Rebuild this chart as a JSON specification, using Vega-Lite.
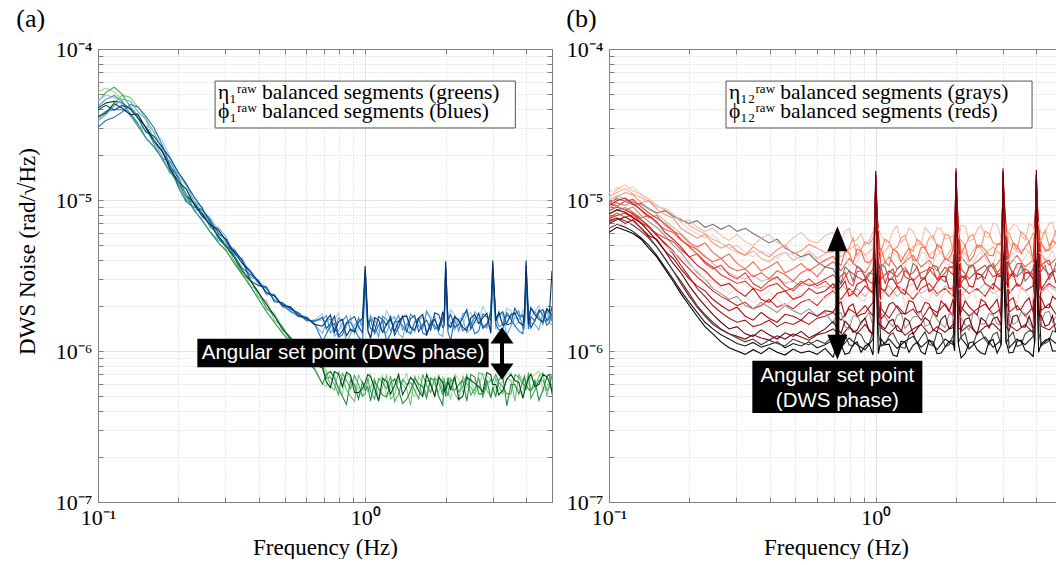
{
  "$schema": "https://vega.github.io/schema/vega-lite/v6.json",
  "background": "white",
  "padding": {"left": 16, "top": 6, "right": 0, "bottom": 0},
  "autosize": {"type": "pad"},
  "spacing": 13,
  "resolve": {"scale": {"color": "independent"}},
  "config": {
    "view": {"stroke": null},
    "axis": {
      "domainColor": "#808080", "tickColor": "#808080", "labelColor": "#000000", "titleColor": "#000000",
      "labelFont": "Liberation Serif", "titleFont": "Liberation Serif", "titleFontWeight": "normal",
      "labelFontSize": 22, "titleFontSize": 23, "labelFlush": false, "labelOverlap": false
    },
    "title": {"font": "Liberation Serif", "fontSize": 26, "fontWeight": "normal", "color": "#000000", "anchor": "start", "frame": "bounds"}
  },
  "datasets": {
    "left": [
      {"f":0.1,"e1":52,"e2":33.6,"e3":44.8,"e4":35.2,"e5":40.8,"p1":45.6,"p2":33.4,"p3":41.8,"p4":30.4,"p5":39.5,"p6":35.7},
      {"f":0.107,"e1":55,"e2":37.8,"e3":51.6,"e4":38.7,"e5":43.9,"p1":49.6,"p2":36.8,"p3":46.4,"p4":33.6,"p5":42.4,"p6":37.6},
      {"f":0.115,"e1":52.2,"e2":44.1,"e3":55.8,"e4":39.6,"e5":45,"p1":47.6,"p2":41.8,"p3":49.2,"p4":35.3,"p5":39.4,"p6":43.5},
      {"f":0.123,"e1":45.8,"e2":49.3,"e3":50.2,"e4":39.6,"e5":44,"p1":43.2,"p2":46.5,"p3":44.8,"p4":38.2,"p5":42.3,"p6":40.7},
      {"f":0.132,"e1":37.6,"e2":48,"e3":41.6,"e4":37.6,"e5":40,"p1":35.9,"p2":45.2,"p3":36.7,"p4":42.9,"p5":40.6,"p6":36.7},
      {"f":0.141,"e1":31.5,"e2":41.3,"e3":36.4,"e4":32.2,"e5":35,"p1":30.8,"p2":38.5,"p3":30.8,"p4":41.3,"p5":35,"p6":37.1},
      {"f":0.151,"e1":28.8,"e2":34.8,"e3":30,"e4":25.8,"e5":30.6,"p1":31.2,"p2":34.2,"p3":25.8,"p4":36,"p5":28.2,"p6":30},
      {"f":0.162,"e1":26.5,"e2":28,"e3":23.5,"e4":22.5,"e5":25,"p1":28.6,"p2":25,"p3":22.4,"p4":30.1,"p5":26.5,"p6":24.5},
      {"f":0.174,"e1":22.6,"e2":21.7,"e3":18.5,"e4":18.9,"e5":20.9,"p1":24.8,"p2":19.3,"p3":18.9,"p4":23.1,"p5":22.3,"p6":21},
      {"f":0.186,"e1":18.5,"e2":16.5,"e3":15.2,"e4":15.5,"e5":16.8,"p1":19.4,"p2":15,"p3":18,"p4":17,"p5":19,"p6":16},
      {"f":0.2,"e1":14.6,"e2":12.4,"e3":13.8,"e4":12.7,"e5":14,"p1":14.6,"p2":15.2,"p3":14.1,"p4":12.1,"p5":15.2,"p6":13.2},
      {"f":0.214,"e1":12.3,"e2":10.3,"e3":9.9,"e4":11,"e5":10.8,"p1":10.8,"p2":12.9,"p3":10.6,"p4":9.72,"p5":12.7,"p6":11.8},
      {"f":0.229,"e1":9.86,"e2":8.56,"e3":9.67,"e4":8.56,"e5":9.49,"p1":10.3,"p2":9.69,"p3":8.55,"p4":8.93,"p5":10.5,"p6":9.31},
      {"f":0.245,"e1":7.68,"e2":8.64,"e3":8.16,"e4":7.36,"e5":8.16,"p1":8.36,"p2":9.02,"p3":7.38,"p4":8.69,"p5":8.86,"p6":7.87},
      {"f":0.263,"e1":7.34,"e2":6.53,"e3":7.07,"e4":6.12,"e5":6.8,"p1":7.7,"p2":6.58,"p3":6.16,"p4":7.42,"p5":7.14,"p6":6.86},
      {"f":0.282,"e1":6.03,"e2":6.26,"e3":5.57,"e4":5.22,"e5":5.8,"p1":6.36,"p2":6.6,"p3":5.4,"p4":6,"p5":5.64,"p6":6.36},
      {"f":0.302,"e1":4.68,"e2":5.12,"e3":5.19,"e4":4.61,"e5":4.9,"p1":5.04,"p2":5.67,"p3":5.04,"p4":5.51,"p5":4.89,"p6":5.36},
      {"f":0.324,"e1":4.28,"e2":3.92,"e3":4.16,"e4":3.79,"e5":4.18,"p1":4.77,"p2":4.37,"p3":4.64,"p4":4.23,"p5":4.64,"p6":4.5},
      {"f":0.347,"e1":3.5,"e2":3.3,"e3":3.2,"e4":3.2,"e5":3.4,"p1":3.74,"p2":4.09,"p3":3.97,"p4":3.52,"p5":3.97,"p6":3.8},
      {"f":0.372,"e1":2.68,"e2":3.02,"e3":2.94,"e4":2.68,"e5":2.91,"p1":3.44,"p2":3.06,"p3":3.34,"p4":3.2,"p5":2.91,"p6":3.34},
      {"f":0.398,"e1":2.51,"e2":2.29,"e3":2.44,"e4":2.22,"e5":2.45,"p1":2.88,"p2":2.97,"p3":2.8,"p4":2.93,"p5":2.72,"p6":2.88},
      {"f":0.427,"e1":1.94,"e2":2.15,"e3":1.91,"e4":1.82,"e5":2.04,"p1":2.65,"p2":2.35,"p3":2.58,"p4":2.43,"p5":2.65,"p6":2.43},
      {"f":0.457,"e1":1.78,"e2":1.6,"e3":1.73,"e4":1.55,"e5":1.71,"p1":2.18,"p2":2.39,"p3":2.18,"p4":2.32,"p5":2.12,"p6":2.32},
      {"f":0.49,"e1":1.36,"e2":1.46,"e3":1.44,"e4":1.32,"e5":1.4,"p1":2.09,"p2":1.95,"p3":2.05,"p4":1.99,"p5":2.09,"p6":2.01},
      {"f":0.525,"e1":1.26,"e2":1.15,"e3":1.18,"e4":1.13,"e5":1.22,"p1":1.8,"p2":1.96,"p3":1.9,"p4":1.84,"p5":1.9,"p6":1.96},
      {"f":0.562,"e1":1.01,"e2":1.06,"e3":1.04,"e4":0.979,"e5":1.05,"p1":1.77,"p2":1.71,"p3":1.76,"p4":1.69,"p5":1.79,"p6":1.71},
      {"f":0.603,"e1":0.936,"e2":0.864,"e3":0.927,"e4":0.846,"e5":0.918,"p1":1.58,"p2":1.7,"p3":1.58,"p4":1.66,"p5":1.61,"p6":1.66},
      {"f":0.646,"e1":0.776,"e2":0.832,"e3":0.792,"e4":0.76,"e5":0.816,"p1":1.61,"p2":1.49,"p3":1.6,"p4":1.52,"p5":1.57,"p6":1.5},
      {"f":0.692,"e1":0.607,"e2":0.796,"e3":0.793,"e4":0.603,"e5":0.771,"p1":1.76,"p2":1.31,"p3":1.61,"p4":1.16,"p5":1.67,"p6":1.46},
      {"f":0.716,"e1":0.58,"e2":0.74,"e3":0.66,"e4":0.7,"e5":0.62,"p1":1.36,"p2":1.58,"p3":1.72,"p4":1.3,"p5":1.41,"p6":1.6},
      {"f":0.741,"e1":0.725,"e2":0.584,"e3":0.671,"e4":0.733,"e5":0.572,"p1":1.43,"p2":1.63,"p3":1.32,"p4":1.47,"p5":1.52,"p6":1.73},
      {"f":0.767,"e1":0.7,"e2":0.55,"e3":0.6,"e4":0.66,"e5":0.73,"p1":1.62,"p2":1.25,"p3":1.4,"p4":1.52,"p5":1.7,"p6":1.33},
      {"f":0.794,"e1":0.575,"e2":0.728,"e3":0.515,"e4":0.562,"e5":0.706,"p1":1.78,"p2":1.35,"p3":1.65,"p4":1.23,"p5":1.26,"p6":1.56},
      {"f":0.822,"e1":0.52,"e2":0.66,"e3":0.71,"e4":0.5,"e5":0.58,"p1":1.37,"p2":1.55,"p3":1.58,"p4":1.28,"p5":1.36,"p6":1.62},
      {"f":0.851,"e1":0.7,"e2":0.551,"e3":0.641,"e4":0.442,"e5":0.724,"p1":1.44,"p2":1.12,"p3":1.71,"p4":1.52,"p5":1.54,"p6":1.26},
      {"f":0.881,"e1":0.66,"e2":0.5,"e3":0.56,"e4":0.64,"e5":0.69,"p1":1.7,"p2":1.3,"p3":1.36,"p4":1.55,"p5":1.62,"p6":1.4},
      {"f":0.912,"e1":0.617,"e2":0.464,"e3":0.688,"e4":0.595,"e5":0.532,"p1":1.29,"p2":1.48,"p3":1.34,"p4":1.39,"p5":1.69,"p6":1.34},
      {"f":0.944,"e1":0.55,"e2":0.69,"e3":0.6,"e4":0.48,"e5":0.53,"p1":1.4,"p2":1.62,"p3":1.66,"p4":1.24,"p5":1.45,"p6":1.55},
      {"f":0.977,"e1":0.5,"e2":0.611,"e3":0.502,"e4":0.623,"e5":0.562,"p1":1.64,"p2":1.58,"p3":1.44,"p4":1.16,"p5":1.32,"p6":1.66},
      {"f":1,"e1":0.6,"e2":0.59,"e3":0.52,"e4":0.55,"e5":0.62,"p1":3,"p2":2.6,"p3":3.3,"p4":2.9,"p5":3.5,"p6":3.66},
      {"f":1.023,"e1":0.64,"e2":0.54,"e3":0.66,"e4":0.58,"e5":0.7,"p1":1.55,"p2":1.33,"p3":1.4,"p4":1.5,"p5":1.62,"p6":1.38},
      {"f":1.047,"e1":0.703,"e2":0.572,"e3":0.541,"e4":0.468,"e5":0.678,"p1":1.57,"p2":1.24,"p3":1.71,"p4":1.62,"p5":1.41,"p6":1.21},
      {"f":1.084,"e1":0.52,"e2":0.66,"e3":0.48,"e4":0.63,"e5":0.57,"p1":1.68,"p2":1.58,"p3":1.48,"p4":1.3,"p5":1.35,"p6":1.66},
      {"f":1.122,"e1":0.636,"e2":0.475,"e3":0.657,"e4":0.565,"e5":0.465,"p1":1.36,"p2":1.47,"p3":1.24,"p4":1.48,"p5":1.69,"p6":1.61},
      {"f":1.161,"e1":0.69,"e2":0.58,"e3":0.62,"e4":0.51,"e5":0.66,"p1":1.42,"p2":1.34,"p3":1.7,"p4":1.57,"p5":1.62,"p6":1.33},
      {"f":1.202,"e1":0.49,"e2":0.689,"e3":0.56,"e4":0.497,"e5":0.63,"p1":1.85,"p2":1.32,"p3":1.62,"p4":1.16,"p5":1.48,"p6":1.51},
      {"f":1.245,"e1":0.56,"e2":0.48,"e3":0.68,"e4":0.62,"e5":0.52,"p1":1.62,"p2":1.6,"p3":1.36,"p4":1.3,"p5":1.7,"p6":1.62},
      {"f":1.288,"e1":0.655,"e2":0.514,"e3":0.463,"e4":0.652,"e5":0.591,"p1":1.47,"p2":1.69,"p3":1.55,"p4":1.55,"p5":1.27,"p6":1.35},
      {"f":1.333,"e1":0.62,"e2":0.66,"e3":0.52,"e4":0.55,"e5":0.7,"p1":1.4,"p2":1.3,"p3":1.72,"p4":1.58,"p5":1.44,"p6":1.56},
      {"f":1.38,"e1":0.616,"e2":0.601,"e3":0.648,"e4":0.449,"e5":0.514,"p1":1.68,"p2":1.23,"p3":1.38,"p4":1.47,"p5":1.7,"p6":1.69},
      {"f":1.429,"e1":0.71,"e2":0.56,"e3":0.6,"e4":0.48,"e5":0.58,"p1":1.75,"p2":1.52,"p3":1.46,"p4":1.36,"p5":1.34,"p6":1.7},
      {"f":1.479,"e1":0.539,"e2":0.437,"e3":0.618,"e4":0.545,"e5":0.669,"p1":1.31,"p2":1.46,"p3":1.75,"p4":1.3,"p5":1.64,"p6":1.43},
      {"f":1.531,"e1":0.5,"e2":0.69,"e3":0.55,"e4":0.66,"e5":0.62,"p1":1.52,"p2":1.33,"p3":1.66,"p4":1.56,"p5":1.72,"p6":1.38},
      {"f":1.585,"e1":0.684,"e2":0.582,"e3":0.483,"e4":0.604,"e5":0.543,"p1":1.65,"p2":1.61,"p3":1.46,"p4":1.65,"p5":1.34,"p6":1.65},
      {"f":1.641,"e1":0.6,"e2":0.52,"e3":0.7,"e4":0.58,"e5":0.5,"p1":1.42,"p2":1.68,"p3":1.4,"p4":1.32,"p5":1.5,"p6":1.75},
      {"f":1.698,"e1":0.519,"e2":0.64,"e3":0.589,"e4":0.487,"e5":0.698,"p1":1.8,"p2":1.35,"p3":1.84,"p4":1.27,"p5":1.6,"p6":1.29},
      {"f":1.758,"e1":0.67,"e2":0.62,"e3":0.53,"e4":0.66,"e5":0.6,"p1":1.7,"p2":1.44,"p3":1.62,"p4":1.58,"p5":1.38,"p6":1.5},
      {"f":1.82,"e1":0.597,"e2":0.495,"e3":0.667,"e4":0.642,"e5":0.504,"p1":1.47,"p2":1.72,"p3":1.39,"p4":1.46,"p5":1.79,"p6":1.62},
      {"f":1.884,"e1":0.53,"e2":0.7,"e3":0.62,"e4":0.5,"e5":0.67,"p1":1.48,"p2":1.3,"p3":1.48,"p4":1.36,"p5":1.74,"p6":1.4},
      {"f":1.95,"e1":0.674,"e2":0.534,"e3":0.512,"e4":0.439,"e5":0.62,"p1":1.57,"p2":1.25,"p3":1.68,"p4":1.66,"p5":1.43,"p6":1.82},
      {"f":1.975,"e1":0.62,"e2":0.55,"e3":0.66,"e4":0.6,"e5":0.54,"p1":1.66,"p2":1.56,"p3":1.72,"p4":1.5,"p5":1.48,"p6":1.62},
      {"f":2,"e1":0.57,"e2":0.6,"e3":0.58,"e4":0.5,"e5":0.56,"p1":3.2,"p2":2.8,"p3":3.5,"p4":3,"p5":3.7,"p6":3.93},
      {"f":2.04,"e1":0.58,"e2":0.64,"e3":0.5,"e4":0.67,"e5":0.62,"p1":1.52,"p2":1.7,"p3":1.4,"p4":1.34,"p5":1.62,"p6":1.5},
      {"f":2.089,"e1":0.475,"e2":0.665,"e3":0.643,"e4":0.56,"e5":0.557,"p1":1.88,"p2":1.53,"p3":1.53,"p4":1.18,"p5":1.74,"p6":1.43},
      {"f":2.163,"e1":0.7,"e2":0.52,"e3":0.64,"e4":0.55,"e5":0.68,"p1":1.72,"p2":1.38,"p3":1.6,"p4":1.66,"p5":1.44,"p6":1.7},
      {"f":2.239,"e1":0.651,"e2":0.47,"e3":0.536,"e4":0.599,"e5":0.479,"p1":1.43,"p2":1.64,"p3":1.35,"p4":1.61,"p5":1.5,"p6":1.58},
      {"f":2.318,"e1":0.54,"e2":0.68,"e3":0.58,"e4":0.64,"e5":0.5,"p1":1.48,"p2":1.62,"p3":1.76,"p4":1.36,"p5":1.65,"p6":1.44},
      {"f":2.399,"e1":0.578,"e2":0.602,"e3":0.698,"e4":0.466,"e5":0.67,"p1":1.74,"p2":1.32,"p3":1.81,"p4":1.43,"p5":1.88,"p6":1.36},
      {"f":2.483,"e1":0.66,"e2":0.58,"e3":0.51,"e4":0.7,"e5":0.64,"p1":1.8,"p2":1.4,"p3":1.48,"p4":1.58,"p5":1.4,"p6":1.66},
      {"f":2.57,"e1":0.519,"e2":0.513,"e3":0.56,"e4":0.673,"e5":0.611,"p1":1.54,"p2":1.82,"p3":1.67,"p4":1.3,"p5":1.56,"p6":1.75},
      {"f":2.661,"e1":0.58,"e2":0.72,"e3":0.66,"e4":0.52,"e5":0.58,"p1":1.55,"p2":1.7,"p3":1.64,"p4":1.36,"p5":1.78,"p6":1.52},
      {"f":2.754,"e1":0.712,"e2":0.697,"e3":0.495,"e4":0.52,"e5":0.537,"p1":1.98,"p2":1.45,"p3":1.49,"p4":1.76,"p5":1.41,"p6":1.66},
      {"f":2.851,"e1":0.69,"e2":0.55,"e3":0.6,"e4":0.64,"e5":0.72,"p1":1.76,"p2":1.52,"p3":1.42,"p4":1.68,"p5":1.5,"p6":1.78},
      {"f":2.951,"e1":0.642,"e2":0.498,"e3":0.645,"e4":0.49,"e5":0.696,"p1":1.51,"p2":1.39,"p3":1.89,"p4":1.6,"p5":1.78,"p6":1.31},
      {"f":3,"e1":0.6,"e2":0.54,"e3":0.63,"e4":0.57,"e5":0.6,"p1":3,"p2":2.7,"p3":3.4,"p4":3.1,"p5":3.8,"p6":3.97},
      {"f":3.08,"e1":0.55,"e2":0.66,"e3":0.7,"e4":0.5,"e5":0.6,"p1":1.62,"p2":1.4,"p3":1.7,"p4":1.5,"p5":1.66,"p6":1.58},
      {"f":3.162,"e1":0.548,"e2":0.582,"e3":0.62,"e4":0.645,"e5":0.512,"p1":1.73,"p2":1.77,"p3":1.45,"p4":1.38,"p5":1.73,"p6":1.81},
      {"f":3.273,"e1":0.64,"e2":0.52,"e3":0.58,"e4":0.68,"e5":0.55,"p1":1.5,"p2":1.74,"p3":1.5,"p4":1.4,"p5":1.82,"p6":1.48},
      {"f":3.388,"e1":0.698,"e2":0.653,"e3":0.52,"e4":0.434,"e5":0.652,"p1":1.91,"p2":1.27,"p3":1.8,"p4":1.75,"p5":1.49,"p6":1.53},
      {"f":3.508,"e1":0.72,"e2":0.64,"e3":0.52,"e4":0.6,"e5":0.7,"p1":1.85,"p2":1.46,"p3":1.66,"p4":1.62,"p5":1.52,"p6":1.74},
      {"f":3.631,"e1":0.583,"e2":0.466,"e3":0.696,"e4":0.6,"e5":0.637,"p1":1.45,"p2":1.67,"p3":1.76,"p4":1.47,"p5":1.92,"p6":1.79},
      {"f":3.758,"e1":0.56,"e2":0.7,"e3":0.67,"e4":0.52,"e5":0.62,"p1":1.58,"p2":1.62,"p3":1.84,"p4":1.36,"p5":1.7,"p6":1.55},
      {"f":3.89,"e1":0.512,"e2":0.638,"e3":0.605,"e4":0.63,"e5":0.486,"p1":1.88,"p2":1.76,"p3":1.4,"p4":1.3,"p5":1.71,"p6":1.48},
      {"f":3.945,"e1":0.66,"e2":0.55,"e3":0.6,"e4":0.68,"e5":0.54,"p1":1.78,"p2":1.4,"p3":1.56,"p4":1.66,"p5":1.55,"p6":1.82},
      {"f":4,"e1":0.59,"e2":0.6,"e3":0.55,"e4":0.6,"e5":0.59,"p1":2.9,"p2":2.6,"p3":3.3,"p4":3,"p5":3.7,"p6":3.97},
      {"f":4.08,"e1":0.6,"e2":0.66,"e3":0.72,"e4":0.56,"e5":0.66,"p1":1.55,"p2":1.72,"p3":1.66,"p4":1.4,"p5":1.86,"p6":1.5},
      {"f":4.169,"e1":0.669,"e2":0.551,"e3":0.488,"e4":0.544,"e5":0.704,"p1":1.66,"p2":1.54,"p3":1.93,"p4":1.68,"p5":1.42,"p6":1.93},
      {"f":4.315,"e1":0.7,"e2":0.58,"e3":0.55,"e4":0.64,"e5":0.58,"p1":1.82,"p2":1.5,"p3":1.8,"p4":1.58,"p5":1.6,"p6":1.74},
      {"f":4.467,"e1":0.74,"e2":0.684,"e3":0.641,"e4":0.472,"e5":0.602,"p1":2,"p2":1.38,"p3":1.7,"p4":1.87,"p5":1.8,"p6":1.62},
      {"f":4.624,"e1":0.54,"e2":0.72,"e3":0.64,"e4":0.55,"e5":0.7,"p1":1.62,"p2":1.78,"p3":1.5,"p4":1.74,"p5":1.88,"p6":1.56},
      {"f":4.786,"e1":0.577,"e2":0.5,"e3":0.549,"e4":0.676,"e5":0.673,"p1":1.56,"p2":1.89,"p3":1.88,"p4":1.48,"p5":1.59,"p6":1.91},
      {"f":4.892,"e1":0.66,"e2":0.6,"e3":0.58,"e4":0.7,"e5":0.62,"p1":1.9,"p2":1.52,"p3":1.86,"p4":1.55,"p5":1.66,"p6":1.8},
      {"f":5,"e1":0.7,"e2":0.602,"e3":0.692,"e4":0.513,"e5":0.541,"p1":1.83,"p2":1.5,"p3":1.56,"p4":1.79,"p5":1.95,"p6":3.4}
    ],
    "right": [
      {"f":0.1,"e1":11.2,"e2":8.4,"e3":9.6,"e4":7.2,"e5":6.1,"p1":6.6,"p2":10.2,"p3":9.3,"p4":8.8,"p5":7.6,"p6":9.2,"p7":7.3,"p8":8.1},
      {"f":0.107,"e1":12.1,"e2":9.1,"e3":10.2,"e4":7.6,"e5":6.6,"p1":7,"p2":11.8,"p3":10.5,"p4":9.6,"p5":8.2,"p6":9.9,"p7":7.6,"p8":8.6},
      {"f":0.115,"e1":11.6,"e2":8.6,"e3":9.8,"e4":7.3,"e5":6.3,"p1":6.8,"p2":12.6,"p3":11.2,"p4":9.2,"p5":7.7,"p6":10.3,"p7":7,"p8":8.3},
      {"f":0.123,"e1":12.3,"e2":9,"e3":9.3,"e4":6.8,"e5":6,"p1":7.2,"p2":11.5,"p3":10.8,"p4":9.8,"p5":8,"p6":9.4,"p7":7.4,"p8":7.7},
      {"f":0.132,"e1":10.8,"e2":7.9,"e3":9.5,"e4":6.2,"e5":5.5,"p1":6.4,"p2":10.9,"p3":9.6,"p4":8.5,"p5":7.1,"p6":8.6,"p7":6.5,"p8":7},
      {"f":0.141,"e1":10.1,"e2":7.2,"e3":8.8,"e4":5.6,"e5":4.8,"p1":6,"p2":10.2,"p3":9.9,"p4":7.6,"p5":6.6,"p6":7.8,"p7":5.8,"p8":6.2},
      {"f":0.151,"e1":9.3,"e2":6.6,"e3":8.2,"e4":4.9,"e5":4.2,"p1":5.4,"p2":9,"p3":8.7,"p4":7.9,"p5":6,"p6":7.2,"p7":5.5,"p8":5.4},
      {"f":0.162,"e1":8.4,"e2":5.8,"e3":8.5,"e4":4.1,"e5":3.5,"p1":5,"p2":8.8,"p3":8,"p4":6.8,"p5":5.6,"p6":6.1,"p7":4.6,"p8":4.6},
      {"f":0.174,"e1":8,"e2":5,"e3":7.8,"e4":3.4,"e5":2.9,"p1":4.5,"p2":8.1,"p3":7.6,"p4":6.2,"p5":5.3,"p6":5.5,"p7":4.1,"p8":3.8},
      {"f":0.186,"e1":7.1,"e2":4.5,"e3":7.4,"e4":2.9,"e5":2.4,"p1":4.2,"p2":7.2,"p3":6.5,"p4":5.9,"p5":4.7,"p6":4.9,"p7":3.5,"p8":3.3},
      {"f":0.2,"e1":6.4,"e2":3.8,"e3":7,"e4":2.4,"e5":2,"p1":3.7,"p2":7.4,"p3":6,"p4":5.2,"p5":4.2,"p6":4.2,"p7":3,"p8":2.7},
      {"f":0.214,"e1":6,"e2":3.3,"e3":7.3,"e4":2,"e5":1.7,"p1":3.4,"p2":6.6,"p3":5.6,"p4":4.9,"p5":4.4,"p6":3.7,"p7":2.7,"p8":2.3},
      {"f":0.229,"e1":5.6,"e2":3,"e3":6.6,"e4":1.75,"e5":1.45,"p1":3,"p2":6.2,"p3":5.9,"p4":5.2,"p5":3.8,"p6":3.4,"p7":2.5,"p8":2},
      {"f":0.245,"e1":5.9,"e2":2.6,"e3":6.9,"e4":1.55,"e5":1.3,"p1":2.9,"p2":6.5,"p3":5.2,"p4":4.5,"p5":3.5,"p6":3,"p7":2.2,"p8":1.75},
      {"f":0.263,"e1":5.2,"e2":2.4,"e3":6.4,"e4":1.4,"e5":1.15,"p1":2.6,"p2":5.8,"p3":4.8,"p4":4.1,"p5":3.7,"p6":2.7,"p7":2,"p8":1.55},
      {"f":0.282,"e1":4.8,"e2":2.2,"e3":6.8,"e4":1.3,"e5":1.05,"p1":2.4,"p2":5.4,"p3":5.1,"p4":4.4,"p5":3.2,"p6":2.8,"p7":1.85,"p8":1.4},
      {"f":0.302,"e1":5,"e2":2.3,"e3":6.2,"e4":1.22,"e5":1,"p1":2.6,"p2":5.9,"p3":4.6,"p4":3.8,"p5":3,"p6":2.5,"p7":1.95,"p8":1.45},
      {"f":0.324,"e1":4.5,"e2":2,"e3":6.5,"e4":1.15,"e5":0.95,"p1":2.3,"p2":5.3,"p3":4.3,"p4":3.5,"p5":3.3,"p6":2.3,"p7":1.7,"p8":1.3},
      {"f":0.347,"e1":4.2,"e2":1.9,"e3":6,"e4":1.2,"e5":1.02,"p1":2.1,"p2":5,"p3":4.9,"p4":3.9,"p5":2.8,"p6":2.6,"p7":1.6,"p8":1.25},
      {"f":0.372,"e1":4.6,"e2":2.1,"e3":5.6,"e4":1.1,"e5":0.96,"p1":2.3,"p2":5.6,"p3":4.5,"p4":3.4,"p5":2.6,"p6":2.2,"p7":1.8,"p8":1.38},
      {"f":0.398,"e1":4.4,"e2":1.95,"e3":5.2,"e4":1.18,"e5":1.05,"p1":2.5,"p2":5.9,"p3":4.2,"p4":3.6,"p5":2.9,"p6":2.1,"p7":1.65,"p8":1.28},
      {"f":0.427,"e1":4.1,"e2":1.8,"e3":5.5,"e4":1.12,"e5":0.98,"p1":2.2,"p2":5.2,"p3":4.7,"p4":3.9,"p5":3.1,"p6":2.4,"p7":1.55,"p8":1.2},
      {"f":0.457,"e1":4.5,"e2":2,"e3":4.8,"e4":1.08,"e5":0.94,"p1":2,"p2":5,"p3":5,"p4":3.3,"p5":2.7,"p6":2.5,"p7":1.75,"p8":1.32},
      {"f":0.49,"e1":4.3,"e2":1.85,"e3":4.5,"e4":1.2,"e5":1.03,"p1":2.2,"p2":5.6,"p3":4.4,"p4":3.5,"p5":2.5,"p6":2.2,"p7":1.7,"p8":1.25},
      {"f":0.525,"e1":4,"e2":1.75,"e3":4.2,"e4":1.14,"e5":0.97,"p1":2.4,"p2":6.1,"p3":4.6,"p4":3.8,"p5":2.8,"p6":2.3,"p7":1.6,"p8":1.35},
      {"f":0.562,"e1":4.4,"e2":1.9,"e3":4.4,"e4":1.1,"e5":1,"p1":2.1,"p2":5.4,"p3":5.1,"p4":3.4,"p5":3,"p6":2.6,"p7":1.8,"p8":1.22},
      {"f":0.603,"e1":4.2,"e2":1.7,"e3":3.9,"e4":1.18,"e5":0.95,"p1":2.3,"p2":5.2,"p3":4.8,"p4":3.7,"p5":2.7,"p6":2.4,"p7":1.7,"p8":1.3},
      {"f":0.646,"e1":3.9,"e2":1.8,"e3":3.6,"e4":1.12,"e5":1.04,"p1":2.2,"p2":5.8,"p3":4.5,"p4":4,"p5":2.9,"p6":2.5,"p7":1.85,"p8":1.4},
      {"f":0.692,"e1":4.19,"e2":1.52,"e3":3.5,"e4":1.27,"e5":0.91,"p1":2.44,"p2":6.14,"p3":4.55,"p4":4.25,"p5":2.6,"p6":2.79,"p7":1.81,"p8":1.57},
      {"f":0.716,"e1":3.7,"e2":1.75,"e3":3.1,"e4":1.12,"e5":1.12,"p1":2.6,"p2":5,"p3":5.2,"p4":3.9,"p5":2.9,"p6":2.5,"p7":2,"p8":1.42},
      {"f":0.741,"e1":4.53,"e2":1.79,"e3":2.82,"e4":1.21,"e5":1.1,"p1":2.03,"p2":5.29,"p3":5.52,"p4":3.68,"p5":3.16,"p6":2.65,"p7":2.12,"p8":1.31},
      {"f":0.767,"e1":4.4,"e2":1.45,"e3":3.6,"e4":1.3,"e5":0.95,"p1":2.2,"p2":6.2,"p3":4.5,"p4":4.6,"p5":3.3,"p6":2.9,"p7":1.7,"p8":1.58},
      {"f":0.794,"e1":3.66,"e2":1.39,"e3":3.42,"e4":1.1,"e5":0.97,"p1":2.5,"p2":6.46,"p3":4.83,"p4":4.5,"p5":2.82,"p6":2.31,"p7":1.97,"p8":1.48},
      {"f":0.822,"e1":3.8,"e2":1.7,"e3":2.9,"e4":1.08,"e5":1.1,"p1":2.55,"p2":5.3,"p3":5.6,"p4":3.8,"p5":2.7,"p6":2.4,"p7":2.05,"p8":1.33},
      {"f":0.851,"e1":3.86,"e2":1.73,"e3":3.66,"e4":1.33,"e5":1.15,"p1":2.39,"p2":5.47,"p3":4.26,"p4":4.73,"p5":3.35,"p6":2.77,"p7":1.69,"p8":1.37},
      {"f":0.881,"e1":4.5,"e2":1.5,"e3":3.5,"e4":1.28,"e5":0.98,"p1":2.15,"p2":6,"p3":4.7,"p4":4.6,"p5":3.4,"p6":2.85,"p7":1.75,"p8":1.55},
      {"f":0.912,"e1":4.43,"e2":1.64,"e3":3.06,"e4":1.14,"e5":1.08,"p1":2.17,"p2":5.02,"p3":5.3,"p4":3.9,"p5":3.15,"p6":3.01,"p7":1.78,"p8":1.65},
      {"f":0.944,"e1":3.6,"e2":1.8,"e3":3.3,"e4":1.1,"e5":1.12,"p1":2.55,"p2":5.4,"p3":5.1,"p4":3.85,"p5":2.9,"p6":2.55,"p7":1.95,"p8":1.36},
      {"f":0.977,"e1":3.95,"e2":1.48,"e3":3.22,"e4":1.37,"e5":0.94,"p1":2.6,"p2":6.14,"p3":5.57,"p4":4.12,"p5":2.76,"p6":2.45,"p7":2.1,"p8":1.29},
      {"f":1,"e1":6,"e2":5,"e3":7,"e4":5,"e5":4,"p1":6,"p2":7,"p3":8,"p4":10,"p5":11,"p6":13,"p7":14.5,"p8":15.6},
      {"f":1.023,"e1":4.3,"e2":1.5,"e3":3,"e4":1.3,"e5":0.96,"p1":2.25,"p2":6.4,"p3":4.6,"p4":4.5,"p5":3.4,"p6":2.8,"p7":2.05,"p8":1.52},
      {"f":1.047,"e1":3.47,"e2":1.77,"e3":3.74,"e4":1.08,"e5":1.2,"p1":2.13,"p2":5.89,"p3":4.63,"p4":4.76,"p5":3.56,"p6":2.59,"p7":1.63,"p8":1.47},
      {"f":1.084,"e1":3.7,"e2":1.68,"e3":3.6,"e4":1.1,"e5":1.1,"p1":2.6,"p2":5.3,"p3":5.5,"p4":3.9,"p5":2.8,"p6":2.5,"p7":1.75,"p8":1.4},
      {"f":1.122,"e1":4.38,"e2":1.54,"e3":2.94,"e4":1.26,"e5":1.11,"p1":2.35,"p2":5.22,"p3":5.26,"p4":3.66,"p5":3.31,"p6":2.99,"p7":2.04,"p8":1.57},
      {"f":1.161,"e1":4.5,"e2":1.45,"e3":3.1,"e4":1.32,"e5":0.94,"p1":2.2,"p2":6.3,"p3":4.7,"p4":4.7,"p5":3.5,"p6":3,"p7":2.1,"p8":1.62},
      {"f":1.202,"e1":4.24,"e2":1.72,"e3":3.46,"e4":1.16,"e5":0.92,"p1":2.58,"p2":6.77,"p3":4.86,"p4":4.56,"p5":2.77,"p6":2.68,"p7":1.94,"p8":1.37},
      {"f":1.245,"e1":3.8,"e2":1.8,"e3":3.7,"e4":1.06,"e5":1.16,"p1":2.6,"p2":5.2,"p3":5.6,"p4":3.9,"p5":2.9,"p6":2.45,"p7":1.78,"p8":1.34},
      {"f":1.288,"e1":3.57,"e2":1.41,"e3":3.1,"e4":1.04,"e5":1.14,"p1":1.99,"p2":5.55,"p3":5.86,"p4":4.38,"p5":3.43,"p6":2.37,"p7":1.76,"p8":1.65},
      {"f":1.333,"e1":4.4,"e2":1.52,"e3":3,"e4":1.28,"e5":0.98,"p1":2.25,"p2":6.5,"p3":4.8,"p4":4.8,"p5":3.2,"p6":2.95,"p7":2.15,"p8":1.58},
      {"f":1.38,"e1":4.1,"e2":1.68,"e3":3.81,"e4":1.32,"e5":1.09,"p1":2.5,"p2":6.2,"p3":4.59,"p4":3.98,"p5":3.29,"p6":3,"p7":2.11,"p8":1.29},
      {"f":1.429,"e1":3.7,"e2":1.7,"e3":3.6,"e4":1.12,"e5":1.14,"p1":2.6,"p2":5.4,"p3":5.5,"p4":4,"p5":3.6,"p6":2.55,"p7":1.8,"p8":1.4},
      {"f":1.479,"e1":4.48,"e2":1.83,"e3":3.02,"e4":1.23,"e5":0.99,"p1":2.28,"p2":5.03,"p3":5.24,"p4":4.85,"p5":3.01,"p6":2.92,"p7":1.84,"p8":1.51},
      {"f":1.531,"e1":4.5,"e2":1.46,"e3":3.1,"e4":1.34,"e5":0.95,"p1":2.2,"p2":6.6,"p3":4.7,"p4":4.9,"p5":3,"p6":3.05,"p7":2.1,"p8":1.66},
      {"f":1.585,"e1":3.71,"e2":1.5,"e3":3.34,"e4":1.11,"e5":1.18,"p1":2.12,"p2":6.11,"p3":5.64,"p4":4.19,"p5":3.6,"p6":2.47,"p7":2.05,"p8":1.58},
      {"f":1.641,"e1":3.8,"e2":1.78,"e3":3.7,"e4":1.08,"e5":1.15,"p1":2.62,"p2":5.5,"p3":5.8,"p4":4.1,"p5":3.5,"p6":2.6,"p7":1.8,"p8":1.38},
      {"f":1.698,"e1":4.34,"e2":1.62,"e3":3.62,"e4":1.34,"e5":0.96,"p1":2.65,"p2":6.56,"p3":4.91,"p4":5.06,"p5":2.96,"p6":2.85,"p7":1.69,"p8":1.34},
      {"f":1.758,"e1":4.6,"e2":1.5,"e3":3,"e4":1.3,"e5":0.97,"p1":2.25,"p2":6.4,"p3":4.8,"p4":4.9,"p5":3.1,"p6":3.1,"p7":2.15,"p8":1.62},
      {"f":1.82,"e1":3.81,"e2":1.43,"e3":2.86,"e4":1.07,"e5":1.06,"p1":2.46,"p2":5.52,"p3":5.94,"p4":4.02,"p5":3.29,"p6":3.13,"p7":2.01,"p8":1.72},
      {"f":1.884,"e1":3.7,"e2":1.76,"e3":3.6,"e4":1.1,"e5":1.16,"p1":2.65,"p2":5.6,"p3":5.8,"p4":4.1,"p5":3.6,"p6":2.6,"p7":1.82,"p8":1.4},
      {"f":1.95,"e1":4.58,"e2":1.73,"e3":3.54,"e4":1.27,"e5":1.16,"p1":2.18,"p2":5.83,"p3":4.64,"p4":4.69,"p5":3.62,"p6":2.61,"p7":2.2,"p8":1.43},
      {"f":1.975,"e1":4.3,"e2":1.55,"e3":3.2,"e4":1.28,"e5":1,"p1":2.3,"p2":6.3,"p3":4.9,"p4":4.8,"p5":3.2,"p6":3,"p7":2.1,"p8":1.6},
      {"f":2,"e1":6.5,"e2":5.5,"e3":7.5,"e4":5.5,"e5":4.5,"p1":6.5,"p2":7.5,"p3":8.5,"p4":10,"p5":12,"p6":14,"p7":15,"p8":16.2},
      {"f":2.04,"e1":3.8,"e2":1.72,"e3":3.5,"e4":1.14,"e5":1.12,"p1":2.55,"p2":5.6,"p3":5.6,"p4":4.2,"p5":3.5,"p6":2.65,"p7":1.85,"p8":1.42},
      {"f":2.089,"e1":3.9,"e2":1.66,"e3":3.18,"e4":1.24,"e5":0.9,"p1":2.61,"p2":6.79,"p3":5.43,"p4":4.34,"p5":2.81,"p6":3.06,"p7":1.81,"p8":1.39},
      {"f":2.163,"e1":4.5,"e2":1.5,"e3":3,"e4":1.32,"e5":0.96,"p1":2.2,"p2":6.7,"p3":5,"p4":5,"p5":3.1,"p6":3.15,"p7":2.15,"p8":1.62},
      {"f":2.239,"e1":3.57,"e2":1.37,"e3":3.7,"e4":1.03,"e5":1.13,"p1":2.28,"p2":5.37,"p3":5.71,"p4":3.93,"p5":3.54,"p6":2.7,"p7":1.96,"p8":1.66},
      {"f":2.318,"e1":3.8,"e2":1.8,"e3":3.7,"e4":1.1,"e5":1.15,"p1":2.62,"p2":5.5,"p3":5.9,"p4":4.2,"p5":3.7,"p6":2.65,"p7":1.85,"p8":1.4},
      {"f":2.399,"e1":4.29,"e2":1.75,"e3":2.98,"e4":1.33,"e5":1.02,"p1":2.08,"p2":6.34,"p3":4.84,"p4":4.99,"p5":3.24,"p6":3.26,"p7":1.73,"p8":1.29},
      {"f":2.483,"e1":4.5,"e2":1.5,"e3":3.1,"e4":1.34,"e5":0.97,"p1":2.25,"p2":6.8,"p3":4.9,"p4":5,"p5":3.2,"p6":3.2,"p7":2.2,"p8":1.66},
      {"f":2.57,"e1":4.14,"e2":1.52,"e3":3.38,"e4":1.19,"e5":0.95,"p1":2.51,"p2":5.71,"p3":6.21,"p4":4.68,"p5":3.02,"p6":2.8,"p7":2.11,"p8":1.58},
      {"f":2.661,"e1":3.8,"e2":1.78,"e3":3.7,"e4":1.1,"e5":1.16,"p1":2.68,"p2":5.7,"p3":6,"p4":4.3,"p5":3.6,"p6":2.7,"p7":1.88,"p8":1.42},
      {"f":2.754,"e1":3.66,"e2":1.72,"e3":3.62,"e4":1.29,"e5":1.19,"p1":2.71,"p2":7.05,"p3":5.21,"p4":4.27,"p5":3.8,"p6":2.57,"p7":2.02,"p8":1.64},
      {"f":2.851,"e1":4.6,"e2":1.52,"e3":3.1,"e4":1.33,"e5":0.97,"p1":2.3,"p2":6.9,"p3":5.1,"p4":5.1,"p5":3.3,"p6":3.25,"p7":2.2,"p8":1.68},
      {"f":2.951,"e1":4.48,"e2":1.47,"e3":3.1,"e4":1.1,"e5":1.1,"p1":2.26,"p2":5.61,"p3":5.03,"p4":5.18,"p5":3.54,"p6":3.1,"p7":1.67,"p8":1.48},
      {"f":3,"e1":6.5,"e2":5.5,"e3":7.5,"e4":5.5,"e5":4.5,"p1":6.5,"p2":7.5,"p3":8.5,"p4":10.5,"p5":12,"p6":14,"p7":15,"p8":16.2},
      {"f":3.08,"e1":3.9,"e2":1.78,"e3":3.6,"e4":1.12,"e5":1.16,"p1":2.6,"p2":5.8,"p3":6.1,"p4":4.4,"p5":3.7,"p6":2.75,"p7":1.9,"p8":1.45},
      {"f":3.162,"e1":4.05,"e2":1.81,"e3":3.78,"e4":1.24,"e5":0.97,"p1":2.61,"p2":6.22,"p3":6.04,"p4":4.15,"p5":3.15,"p6":3.01,"p7":2.15,"p8":1.36},
      {"f":3.273,"e1":4.5,"e2":1.5,"e3":3.1,"e4":1.34,"e5":0.98,"p1":2.3,"p2":6.9,"p3":5.2,"p4":5.2,"p5":3.3,"p6":3.3,"p7":2.25,"p8":1.7},
      {"f":3.388,"e1":3.47,"e2":1.56,"e3":3.18,"e4":1.07,"e5":1.16,"p1":2.07,"p2":6.77,"p3":4.69,"p4":4.96,"p5":3.78,"p6":2.68,"p7":1.87,"p8":1.73},
      {"f":3.508,"e1":3.8,"e2":1.8,"e3":3.7,"e4":1.1,"e5":1.18,"p1":2.7,"p2":5.9,"p3":6.2,"p4":4.4,"p5":3.8,"p6":2.75,"p7":1.9,"p8":1.45},
      {"f":3.631,"e1":4.19,"e2":1.77,"e3":2.9,"e4":1.3,"e5":1.01,"p1":2.49,"p2":5.38,"p3":5.76,"p4":4.87,"p5":3.31,"p6":3.29,"p7":2.11,"p8":1.44},
      {"f":3.758,"e1":4.6,"e2":1.52,"e3":3.1,"e4":1.36,"e5":0.98,"p1":2.3,"p2":7,"p3":5.3,"p4":5.3,"p5":3.3,"p6":3.3,"p7":2.25,"p8":1.7},
      {"f":3.89,"e1":3.76,"e2":1.41,"e3":3.54,"e4":1.36,"e5":0.92,"p1":2.22,"p2":6.67,"p3":5.99,"p4":4.04,"p5":3.04,"p6":2.99,"p7":1.81,"p8":1.42},
      {"f":3.945,"e1":3.9,"e2":1.8,"e3":3.6,"e4":1.12,"e5":1.18,"p1":2.7,"p2":6,"p3":6.2,"p4":4.5,"p5":3.8,"p6":2.8,"p7":1.95,"p8":1.45},
      {"f":4,"e1":6,"e2":5,"e3":7,"e4":5,"e5":4,"p1":6,"p2":7.5,"p3":8,"p4":10,"p5":11.5,"p6":13.5,"p7":14.5,"p8":15.8},
      {"f":4.08,"e1":4.5,"e2":1.54,"e3":3.2,"e4":1.34,"e5":0.98,"p1":2.35,"p2":7,"p3":5.3,"p4":5.3,"p5":3.4,"p6":3.3,"p7":2.3,"p8":1.72},
      {"f":4.169,"e1":4.43,"e2":1.56,"e3":3.38,"e4":1.11,"e5":1.11,"p1":2.62,"p2":6.03,"p3":5.42,"p4":5.26,"p5":3.68,"p6":2.57,"p7":2.24,"p8":1.72},
      {"f":4.315,"e1":3.9,"e2":1.8,"e3":3.7,"e4":1.12,"e5":1.18,"p1":2.7,"p2":6.1,"p3":6.3,"p4":4.6,"p5":3.9,"p6":2.8,"p7":1.95,"p8":1.46},
      {"f":4.467,"e1":4.29,"e2":1.83,"e3":2.98,"e4":1.17,"e5":1.2,"p1":2.45,"p2":7.03,"p3":4.97,"p4":4.72,"p5":3.99,"p6":3.12,"p7":1.94,"p8":1.5},
      {"f":4.6,"e1":4.6,"e2":1.55,"e3":3.2,"e4":1.36,"e5":1,"p1":2.35,"p2":7.1,"p3":5.4,"p4":5.4,"p5":3.4,"p6":3.35,"p7":2.3,"p8":1.72},
      {"f":4.74,"e1":4.05,"e2":1.7,"e3":3.85,"e4":1.34,"e5":1,"p1":2.14,"p2":5.7,"p3":6.34,"p4":5.15,"p5":3.34,"p6":2.81,"p7":2.2,"p8":1.32}
    ],
    "right2": [
      {"f":0.1,"p9":10.5,"p10":8,"p11":9.5,"p12":7.5,"p13":8.5,"p14":7,"e6":10,"e7":6.5},
      {"f":0.107,"p9":11.2,"p10":8.6,"p11":9.1,"p12":7.9,"p13":9,"p14":7.4,"e6":10.6,"e7":6.9},
      {"f":0.115,"p9":11.9,"p10":8.9,"p11":9.8,"p12":8.2,"p13":8.6,"p14":7.7,"e6":10.2,"e7":6.6},
      {"f":0.123,"p9":11,"p10":8.3,"p11":10.1,"p12":7.6,"p13":8.1,"p14":7.2,"e6":9.7,"e7":6.2},
      {"f":0.132,"p9":10.4,"p10":7.6,"p11":9,"p12":7,"p13":7.4,"p14":6.5,"e6":9.3,"e7":5.6},
      {"f":0.141,"p9":9.8,"p10":7.9,"p11":8.2,"p12":6.6,"p13":6.7,"p14":5.7,"e6":8.6,"e7":5},
      {"f":0.151,"p9":9.1,"p10":7,"p11":7.6,"p12":5.8,"p13":5.9,"p14":4.9,"e6":8.1,"e7":4.3},
      {"f":0.162,"p9":8.7,"p10":6.4,"p11":7,"p12":5.2,"p13":5.1,"p14":4.1,"e6":7.3,"e7":3.6},
      {"f":0.174,"p9":7.9,"p10":6.1,"p11":6.3,"p12":4.6,"p13":4.4,"p14":3.4,"e6":6.6,"e7":3},
      {"f":0.186,"p9":7.5,"p10":5.4,"p11":5.5,"p12":4,"p13":3.7,"p14":2.8,"e6":6,"e7":2.5},
      {"f":0.2,"p9":6.8,"p10":5,"p11":4.9,"p12":3.5,"p13":3.1,"p14":2.3,"e6":5.3,"e7":2.1},
      {"f":0.214,"p9":6.3,"p10":4.7,"p11":4.4,"p12":3.1,"p13":2.6,"p14":1.95,"e6":4.7,"e7":1.8},
      {"f":0.229,"p9":6,"p10":4.2,"p11":3.9,"p12":2.8,"p13":2.3,"p14":1.7,"e6":4.3,"e7":1.55},
      {"f":0.245,"p9":5.5,"p10":3.9,"p11":3.6,"p12":2.5,"p13":2,"p14":1.5,"e6":3.8,"e7":1.4},
      {"f":0.263,"p9":5.2,"p10":4.1,"p11":3.2,"p12":2.3,"p13":1.8,"p14":1.38,"e6":3.5,"e7":1.28},
      {"f":0.282,"p9":4.8,"p10":3.6,"p11":3,"p12":2.15,"p13":1.65,"p14":1.3,"e6":3.3,"e7":1.2},
      {"f":0.302,"p9":4.5,"p10":3.4,"p11":2.8,"p12":2,"p13":1.55,"p14":1.25,"e6":3.1,"e7":1.12},
      {"f":0.324,"p9":4.3,"p10":3.5,"p11":2.9,"p12":2.1,"p13":1.6,"p14":1.2,"e6":3,"e7":1.08},
      {"f":0.347,"p9":4.6,"p10":3.1,"p11":2.6,"p12":1.9,"p13":1.45,"p14":1.28,"e6":3.2,"e7":1.14},
      {"f":0.372,"p9":4.1,"p10":3.3,"p11":2.5,"p12":2,"p13":1.5,"p14":1.22,"e6":2.9,"e7":1.06},
      {"f":0.398,"p9":3.9,"p10":3,"p11":2.7,"p12":2.2,"p13":1.6,"p14":1.18,"e6":3,"e7":1.1},
      {"f":0.427,"p9":4.3,"p10":3.4,"p11":2.8,"p12":1.95,"p13":1.45,"p14":1.26,"e6":3.1,"e7":1.15},
      {"f":0.457,"p9":4.5,"p10":3.2,"p11":2.5,"p12":2.05,"p13":1.55,"p14":1.2,"e6":2.8,"e7":1.05},
      {"f":0.49,"p9":4,"p10":2.9,"p11":2.6,"p12":1.9,"p13":1.5,"p14":1.3,"e6":2.9,"e7":1.12},
      {"f":0.525,"p9":4.2,"p10":3.3,"p11":2.9,"p12":2.1,"p13":1.6,"p14":1.24,"e6":2.7,"e7":1.08},
      {"f":0.562,"p9":4.6,"p10":3.5,"p11":2.7,"p12":2.2,"p13":1.5,"p14":1.18,"e6":2.8,"e7":1.15},
      {"f":0.603,"p9":4.1,"p10":3.1,"p11":2.8,"p12":2,"p13":1.65,"p14":1.28,"e6":2.6,"e7":1.05},
      {"f":0.646,"p9":4.4,"p10":3.6,"p11":3,"p12":2.3,"p13":1.7,"p14":1.32,"e6":2.7,"e7":1.1},
      {"f":0.692,"p9":4.9,"p10":3.9,"p11":3.2,"p12":2.5,"p13":1.8,"p14":1.4,"e6":2.5,"e7":1.18},
      {"f":0.741,"p9":4.2,"p10":3.4,"p11":2.8,"p12":2.2,"p13":1.6,"p14":1.25,"e6":2.8,"e7":1.05},
      {"f":0.794,"p9":4.7,"p10":4.1,"p11":3.4,"p12":2.6,"p13":1.9,"p14":1.45,"e6":2.4,"e7":1.22},
      {"f":0.851,"p9":5.1,"p10":3.6,"p11":3.1,"p12":2.3,"p13":1.75,"p14":1.3,"e6":2.6,"e7":1.1},
      {"f":0.912,"p9":4.3,"p10":3.3,"p11":2.9,"p12":2.7,"p13":2,"p14":1.5,"e6":2.3,"e7":1.02},
      {"f":0.977,"p9":4.8,"p10":4,"p11":3.5,"p12":2.4,"p13":1.7,"p14":1.28,"e6":2.7,"e7":1.2},
      {"f":1,"p9":9,"p10":9.5,"p11":12,"p12":12.5,"p13":14,"p14":15,"e6":6,"e7":4.5},
      {"f":1.047,"p9":4.2,"p10":3.6,"p11":3,"p12":2.6,"p13":1.9,"p14":1.42,"e6":2.4,"e7":1.08},
      {"f":1.122,"p9":5,"p10":4.2,"p11":3.4,"p12":2.3,"p13":1.65,"p14":1.3,"e6":2.7,"e7":1.2},
      {"f":1.202,"p9":4.5,"p10":3.5,"p11":3.1,"p12":2.7,"p13":2,"p14":1.48,"e6":2.3,"e7":1.04},
      {"f":1.288,"p9":4,"p10":3.9,"p11":3.6,"p12":2.5,"p13":1.75,"p14":1.27,"e6":2.6,"e7":1.16},
      {"f":1.38,"p9":4.9,"p10":4.3,"p11":2.9,"p12":2.2,"p13":1.9,"p14":1.4,"e6":2.8,"e7":1.25},
      {"f":1.479,"p9":5.2,"p10":3.6,"p11":3.3,"p12":2.6,"p13":1.6,"p14":1.5,"e6":2.4,"e7":1.06},
      {"f":1.585,"p9":4.3,"p10":4,"p11":3.5,"p12":2.8,"p13":1.95,"p14":1.3,"e6":2.6,"e7":1.18},
      {"f":1.698,"p9":4.8,"p10":3.4,"p11":3,"p12":2.4,"p13":1.8,"p14":1.45,"e6":2.3,"e7":1.02},
      {"f":1.82,"p9":4.1,"p10":4.1,"p11":3.6,"p12":2.6,"p13":2.05,"p14":1.33,"e6":2.7,"e7":1.2},
      {"f":1.95,"p9":5,"p10":3.8,"p11":3.2,"p12":2.3,"p13":1.7,"p14":1.5,"e6":2.5,"e7":1.1},
      {"f":2,"p9":9.5,"p10":10,"p11":13,"p12":13.5,"p13":15,"p14":15.5,"e6":6.5,"e7":5},
      {"f":2.089,"p9":4.6,"p10":4.2,"p11":3.5,"p12":2.7,"p13":1.95,"p14":1.35,"e6":2.3,"e7":1.22},
      {"f":2.239,"p9":4.2,"p10":3.6,"p11":3,"p12":2.4,"p13":1.7,"p14":1.48,"e6":2.7,"e7":1.04},
      {"f":2.399,"p9":5.1,"p10":3.9,"p11":3.4,"p12":2.6,"p13":1.9,"p14":1.3,"e6":2.5,"e7":1.15},
      {"f":2.57,"p9":4.4,"p10":4.4,"p11":3.7,"p12":2.3,"p13":2.05,"p14":1.45,"e6":2.8,"e7":1.24},
      {"f":2.754,"p9":4.9,"p10":3.5,"p11":3.1,"p12":2.8,"p13":1.75,"p14":1.52,"e6":2.4,"e7":1.06},
      {"f":2.951,"p9":4.3,"p10":4.1,"p11":3.3,"p12":2.5,"p13":1.9,"p14":1.34,"e6":2.6,"e7":1.18},
      {"f":3,"p9":9.5,"p10":10,"p11":13,"p12":13.5,"p13":15,"p14":15.5,"e6":6.5,"e7":5},
      {"f":3.162,"p9":5.2,"p10":3.7,"p11":3.6,"p12":2.4,"p13":1.8,"p14":1.48,"e6":2.4,"e7":1.05},
      {"f":3.388,"p9":4.5,"p10":4.3,"p11":3.1,"p12":2.8,"p13":2,"p14":1.36,"e6":2.8,"e7":1.2},
      {"f":3.631,"p9":4.8,"p10":3.6,"p11":3.5,"p12":2.5,"p13":1.7,"p14":1.5,"e6":2.5,"e7":1.1},
      {"f":3.89,"p9":4.2,"p10":4,"p11":3.2,"p12":2.7,"p13":1.95,"p14":1.32,"e6":2.7,"e7":1.25},
      {"f":4,"p9":9,"p10":9.5,"p11":12.5,"p12":13,"p13":14.5,"p14":15,"e6":6,"e7":4.5},
      {"f":4.169,"p9":5,"p10":4.4,"p11":3.7,"p12":2.5,"p13":1.85,"p14":1.46,"e6":2.4,"e7":1.08},
      {"f":4.467,"p9":4.6,"p10":3.7,"p11":3.2,"p12":2.8,"p13":2.05,"p14":1.38,"e6":2.7,"e7":1.22},
      {"f":4.74,"p9":5.2,"p10":4.1,"p11":3.5,"p12":2.6,"p13":1.75,"p14":1.52,"e6":2.5,"e7":1.12}
    ]
  },
  "hconcat": [
    {
      "width": 454,
      "height": 453,
      "title": {"text": "(a)", "offset": 6},
      "resolve": {"axis": {"x": "independent", "y": "independent"}},
      "layer": [
        {
          "data": {"name": "left"},
          "transform": [{"fold": ["e1","e2","e3","e4","e5","p1","p2","p3","p4","p5","p6"], "as": ["series", "noise"]}],
          "mark": {"type": "line", "strokeWidth": 1.1, "clip": true},
          "encoding": {
            "x": {"field": "f", "type": "quantitative",
              "scale": {"type": "log", "domain": [0.1, 5], "nice": false},
              "axis": {"orient": "bottom", "values": [0.1,0.2,0.3,0.4,0.5,0.6,0.7,0.8,0.9,1,2,3,4,5],
                "labelExpr": "datum.value == 0.1 ? '10⁻¹' : (datum.value == 1 ? '10⁰' : '')",
                "title": "Frequency (Hz)", "grid": true,
                "gridColor": {"condition": {"test": "datum.value == 0.1 || datum.value == 1", "value": "#e2e2e2"}, "value": "#d2d2d2"},
                "gridDash": {"condition": {"test": "datum.value == 0.1 || datum.value == 1", "value": []}, "value": [1, 2]},
                "tickSize": -5, "labelPadding": 10, "titlePadding": 8}},
            "y": {"field": "noise", "type": "quantitative",
              "scale": {"type": "log", "domain": [0.1, 100], "nice": false},
              "axis": {"orient": "left", "values": [0.1,0.2,0.3,0.4,0.5,0.6,0.7,0.8,0.9,1,2,3,4,5,6,7,8,9,10,20,30,40,50,60,70,80,90,100],
                "labelExpr": "datum.value == 100 ? '10⁻⁴' : (datum.value == 10 ? '10⁻⁵' : (datum.value == 1 ? '10⁻⁶' : (datum.value == 0.1 ? '10⁻⁷' : '')))",
                "title": "DWS Noise  (rad/√Hz)", "titleY": 202, "grid": true,
                "gridColor": {"condition": {"test": "datum.value == 0.1 || datum.value == 1 || datum.value == 10 || datum.value == 100", "value": "#e2e2e2"}, "value": "#d2d2d2"},
                "gridDash": {"condition": {"test": "datum.value == 0.1 || datum.value == 1 || datum.value == 10 || datum.value == 100", "value": []}, "value": [1, 2]},
                "tickSize": -5, "labelPadding": 11, "titlePadding": 16}},
            "color": {"field": "series", "type": "nominal",
              "scale": {"domain": ["e1","e2","e3","e4","e5","p1","p2","p3","p4","p5","p6"],
                "range": ["#a1d99b","#74c476","#41ab5d","#238b45","#00441b","#9ecae1","#6baed6","#4292c6","#2171b5","#08519c","#08306b"]},
              "legend": null}
          }
        },
        {
          "data": {"values": [{"f1": 0.2743, "f2": 3.646, "v1": 61.3, "v2": 30.0}]},
          "mark": {"type": "rect", "fill": "white", "stroke": "#555555", "strokeWidth": 1},
          "encoding": {
            "x": {"field": "f1", "type": "quantitative",
              "axis": {"orient": "top", "values": [0.1,0.2,0.3,0.4,0.5,0.6,0.7,0.8,0.9,1,2,3,4,5], "labels": false, "grid": false, "title": null, "tickSize": -5}},
            "x2": {"field": "f2"},
            "y": {"field": "v1", "type": "quantitative",
              "axis": {"orient": "right", "values": [0.1,0.2,0.3,0.4,0.5,0.6,0.7,0.8,0.9,1,2,3,4,5,6,7,8,9,10,20,30,40,50,60,70,80,90,100], "labels": false, "grid": false, "title": null, "tickSize": -5}},
            "y2": {"field": "v2"}
          }
        },
        {
          "data": {"values": [
            {"f": 0.2814, "v": 51.1, "t": "η₁ʳᵃʷ balanced segments (greens)"},
            {"f": 0.2814, "v": 38.5, "t": "ϕ₁ʳᵃʷ balanced segments (blues)"}
          ]},
          "mark": {"type": "text", "align": "left", "baseline": "middle", "font": "Liberation Serif", "fontSize": 21.5, "color": "#000000"},
          "encoding": {
            "x": {"field": "f", "type": "quantitative", "axis": null},
            "y": {"field": "v", "type": "quantitative", "axis": null},
            "text": {"field": "t"}
          }
        },
        {
          "data": {"values": [{"f1": 0.2354, "f2": 2.896, "v1": 1.206, "v2": 0.78}]},
          "mark": {"type": "rect", "fill": "#000000"},
          "encoding": {
            "x": {"field": "f1", "type": "quantitative", "axis": null},
            "x2": {"field": "f2"},
            "y": {"field": "v1", "type": "quantitative", "axis": null},
            "y2": {"field": "v2"}
          }
        },
        {
          "data": {"values": [{"f": 0.826, "v": 0.97, "t": "Angular set point (DWS phase)"}]},
          "mark": {"type": "text", "align": "center", "baseline": "middle", "font": "Liberation Sans", "fontSize": 20.5, "color": "#ffffff"},
          "encoding": {
            "x": {"field": "f", "type": "quantitative", "axis": null},
            "y": {"field": "v", "type": "quantitative", "axis": null},
            "text": {"field": "t"}
          }
        },
        {
          "data": {"values": [{"f": 3.25, "v1": 1.276, "v2": 0.726}]},
          "mark": {"type": "rule", "strokeWidth": 4, "color": "#000000"},
          "encoding": {
            "x": {"field": "f", "type": "quantitative", "axis": null},
            "y": {"field": "v1", "type": "quantitative", "axis": null},
            "y2": {"field": "v2"}
          }
        },
        {
          "data": {"values": [{"f": 3.25, "v": 1.435}]},
          "mark": {"type": "point", "shape": "M0,0L1,1.4L-1,1.4Z", "size": 529, "filled": true, "color": "#000000", "opacity": 1},
          "encoding": {
            "x": {"field": "f", "type": "quantitative", "axis": null},
            "y": {"field": "v", "type": "quantitative", "axis": null}
          }
        },
        {
          "data": {"values": [{"f": 3.25, "v": 0.646}]},
          "mark": {"type": "point", "shape": "M0,0L1,-1.4L-1,-1.4Z", "size": 529, "filled": true, "color": "#000000", "opacity": 1},
          "encoding": {
            "x": {"field": "f", "type": "quantitative", "axis": null},
            "y": {"field": "v", "type": "quantitative", "axis": null}
          }
        }
      ]
    },
    {
      "width": 447,
      "height": 453,
      "title": {"text": "(b)", "offset": 6},
      "resolve": {"axis": {"x": "independent", "y": "independent"}},
      "layer": [
        {
          "data": {"name": "right2"},
          "transform": [{"fold": ["e6","e7","p9","p10","p11","p12","p13","p14"], "as": ["series", "noise"]}],
          "mark": {"type": "line", "strokeWidth": 1.1, "clip": true},
          "encoding": {
            "x": {"field": "f", "type": "quantitative", "axis": null},
            "y": {"field": "noise", "type": "quantitative", "axis": null},
            "color": {"field": "series", "type": "nominal",
              "scale": {"domain": ["e1","e2","e3","e4","e5","e6","e7","p1","p2","p3","p4","p5","p6","p7","p8","p9","p10","p11","p12","p13","p14"],
                "range": ["#d9d9d9","#969696","#737373","#404040","#000000","#bdbdbd","#1a1a1a","#fcd5c8","#fcbba1","#fc9272","#fb6a4a","#ef3b2c","#cb181d","#a50f15","#67000d","#fdae91","#f5604a","#e0402f","#d02a21","#b3151b","#8a0812"]},
              "legend": null}
          }
        },
        {
          "data": {"name": "right"},
          "transform": [{"fold": ["e1","e2","e3","e4","e5","p1","p2","p3","p4","p5","p6","p7","p8"], "as": ["series", "noise"]}],
          "mark": {"type": "line", "strokeWidth": 1.1, "clip": true},
          "encoding": {
            "x": {"field": "f", "type": "quantitative",
              "scale": {"type": "log", "domain": [0.1, 4.74], "nice": false},
              "axis": {"orient": "bottom", "values": [0.1,0.2,0.3,0.4,0.5,0.6,0.7,0.8,0.9,1,2,3,4],
                "labelExpr": "datum.value == 0.1 ? '10⁻¹' : (datum.value == 1 ? '10⁰' : '')",
                "title": "Frequency (Hz)", "titleX": 227, "grid": true,
                "gridColor": {"condition": {"test": "datum.value == 0.1 || datum.value == 1", "value": "#e2e2e2"}, "value": "#d2d2d2"},
                "gridDash": {"condition": {"test": "datum.value == 0.1 || datum.value == 1", "value": []}, "value": [1, 2]},
                "tickSize": -5, "labelPadding": 10, "titlePadding": 8}},
            "y": {"field": "noise", "type": "quantitative",
              "scale": {"type": "log", "domain": [0.1, 100], "nice": false},
              "axis": {"orient": "left", "values": [0.1,0.2,0.3,0.4,0.5,0.6,0.7,0.8,0.9,1,2,3,4,5,6,7,8,9,10,20,30,40,50,60,70,80,90,100],
                "labelExpr": "datum.value == 100 ? '10⁻⁴' : (datum.value == 10 ? '10⁻⁵' : (datum.value == 1 ? '10⁻⁶' : (datum.value == 0.1 ? '10⁻⁷' : '')))",
                "title": null, "grid": true,
                "gridColor": {"condition": {"test": "datum.value == 0.1 || datum.value == 1 || datum.value == 10 || datum.value == 100", "value": "#e2e2e2"}, "value": "#d2d2d2"},
                "gridDash": {"condition": {"test": "datum.value == 0.1 || datum.value == 1 || datum.value == 10 || datum.value == 100", "value": []}, "value": [1, 2]},
                "tickSize": -5, "labelPadding": 11}},
            "color": {"field": "series", "type": "nominal",
              "scale": {"domain": ["e1","e2","e3","e4","e5","e6","e7","p1","p2","p3","p4","p5","p6","p7","p8","p9","p10","p11","p12","p13","p14"],
                "range": ["#d9d9d9","#969696","#737373","#404040","#000000","#bdbdbd","#1a1a1a","#fcd5c8","#fcbba1","#fc9272","#fb6a4a","#ef3b2c","#cb181d","#a50f15","#67000d","#fdae91","#f5604a","#e0402f","#d02a21","#b3151b","#8a0812"]},
              "legend": null}
          }
        },
        {
          "data": {"values": [{"f1": 0.2746, "f2": 3.855, "v1": 61.3, "v2": 30.0}]},
          "mark": {"type": "rect", "fill": "white", "stroke": "#555555", "strokeWidth": 1},
          "encoding": {
            "x": {"field": "f1", "type": "quantitative",
              "axis": {"orient": "top", "values": [0.1,0.2,0.3,0.4,0.5,0.6,0.7,0.8,0.9,1,2,3,4], "labels": false, "grid": false, "title": null, "tickSize": -5}},
            "x2": {"field": "f2"},
            "y": {"field": "v1", "type": "quantitative", "axis": null},
            "y2": {"field": "v2"}
          }
        },
        {
          "data": {"values": [
            {"f": 0.2815, "v": 51.1, "t": "η₁₂ʳᵃʷ balanced segments (grays)"},
            {"f": 0.2815, "v": 38.5, "t": "ϕ₁₂ʳᵃʷ balanced segments (reds)"}
          ]},
          "mark": {"type": "text", "align": "left", "baseline": "middle", "font": "Liberation Serif", "fontSize": 21.5, "color": "#000000"},
          "encoding": {
            "x": {"field": "f", "type": "quantitative", "axis": null},
            "y": {"field": "v", "type": "quantitative", "axis": null},
            "text": {"field": "t"}
          }
        },
        {
          "data": {"values": [{"f1": 0.3446, "f2": 1.4953, "v1": 0.863, "v2": 0.3885}]},
          "mark": {"type": "rect", "fill": "#000000"},
          "encoding": {
            "x": {"field": "f1", "type": "quantitative", "axis": null},
            "x2": {"field": "f2"},
            "y": {"field": "v1", "type": "quantitative", "axis": null},
            "y2": {"field": "v2"}
          }
        },
        {
          "data": {"values": [
            {"f": 0.718, "v": 0.68, "t": "Angular set point"},
            {"f": 0.718, "v": 0.469, "t": "(DWS phase)"}
          ]},
          "mark": {"type": "text", "align": "center", "baseline": "middle", "font": "Liberation Sans", "fontSize": 20.5, "color": "#ffffff"},
          "encoding": {
            "x": {"field": "f", "type": "quantitative", "axis": null},
            "y": {"field": "v", "type": "quantitative", "axis": null},
            "text": {"field": "t"}
          }
        },
        {
          "data": {"values": [{"f": 0.718, "v1": 6.05, "v2": 0.971}]},
          "mark": {"type": "rule", "strokeWidth": 4, "color": "#000000"},
          "encoding": {
            "x": {"field": "f", "type": "quantitative", "axis": null},
            "y": {"field": "v1", "type": "quantitative", "axis": null},
            "y2": {"field": "v2"}
          }
        },
        {
          "data": {"values": [{"f": 0.718, "v": 6.7}]},
          "mark": {"type": "point", "shape": "M0,0L1,2.5L-1,2.5Z", "size": 400, "filled": true, "color": "#000000", "opacity": 1},
          "encoding": {
            "x": {"field": "f", "type": "quantitative", "axis": null},
            "y": {"field": "v", "type": "quantitative", "axis": null}
          }
        },
        {
          "data": {"values": [{"f": 0.718, "v": 0.876}]},
          "mark": {"type": "point", "shape": "M0,0L1,-2.5L-1,-2.5Z", "size": 400, "filled": true, "color": "#000000", "opacity": 1},
          "encoding": {
            "x": {"field": "f", "type": "quantitative", "axis": null},
            "y": {"field": "v", "type": "quantitative", "axis": null}
          }
        }
      ]
    }
  ]
}
